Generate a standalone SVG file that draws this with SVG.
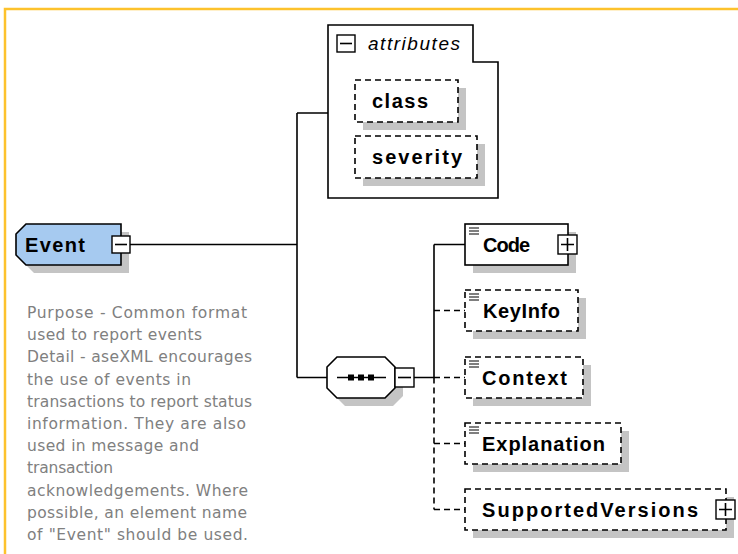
<svg xmlns="http://www.w3.org/2000/svg" width="738" height="554" viewBox="0 0 738 554">
<defs>
<style>
.ln{stroke:#000;stroke-width:1.6;fill:none}
.dl{stroke:#000;stroke-width:1.6;fill:none;stroke-dasharray:6 4}
.box{fill:#fff;stroke:#000;stroke-width:1.6}
.dbox{fill:#fff;stroke:#000;stroke-width:1.6;stroke-dasharray:6 4}
.sh{fill:#c4c4c4}
.lbl{font-family:"Liberation Sans",Arial,sans-serif;font-weight:bold;font-size:20px;fill:#000}
.desc{font-family:"DejaVu Sans",Verdana,sans-serif;font-size:15.5px;fill:#808080}
.btn{fill:#fff;stroke:#000;stroke-width:1.4}
.ico{stroke:#000;stroke-width:1.2;fill:none}
</style>
</defs>
<rect width="738" height="554" fill="#fff"/>
<path d="M5,554 V9 H738" fill="none" stroke="#FDC22C" stroke-width="2.5"/>

<g id="connectors">
 <path class="ln" d="M129,244.5 H297 M297,113 V377.5 M297,113 H328 M297,377.5 H327"/>
 <path class="ln" d="M414,377.5 H434 M434,244.5 V377.5 M434,244.5 H465"/>
 <path class="dl" d="M434,377.5 V509.5 M434,310.5 H465 M434,377.5 H465 M434,443.5 H465 M434,509.5 H465"/>
</g>

<g id="event">
 <polygon class="sh" points="24,242 34,232 129,232 129,273 34,273 24,263"/>
 <polygon points="16,234 26,224 121,224 121,265 26,265 16,255" fill="#A6CAF0" stroke="#000" stroke-width="1.6"/>
 <text class="lbl" x="25" y="252" textLength="60" lengthAdjust="spacing">Event</text>
 <rect class="btn" x="112" y="236" width="18" height="17"/>
 <path class="ln" d="M115,244.5 H127"/>
</g>

<g id="attributes">
 <path class="box" d="M328,25 H473 V62 H498 V198 H328 Z"/>
 <rect class="btn" x="337" y="35" width="18" height="17"/>
 <path class="ln" d="M340,43.5 H352"/>
 <text x="368" y="50" font-family="Liberation Sans, Arial, sans-serif" font-style="italic" font-size="19" textLength="92" lengthAdjust="spacing">attributes</text>
</g>

<g id="class">
 <rect class="sh" x="363" y="88" width="103" height="42"/>
 <rect class="dbox" x="355" y="80" width="103" height="42"/>
 <text class="lbl" x="372" y="108" textLength="56" lengthAdjust="spacing">class</text>
</g>

<g id="severity">
 <rect class="sh" x="363" y="144" width="122" height="42"/>
 <rect class="dbox" x="355" y="136" width="122" height="42"/>
 <text class="lbl" x="372" y="164" textLength="90" lengthAdjust="spacing">severity</text>
</g>

<g id="sequence">
 <polygon class="sh" points="335,375 345,365 393,365 403,375 403,396 393,406 345,406 335,396"/>
 <polygon class="box" points="327,367 337,357 385,357 395,367 395,388 385,398 337,398 327,388"/>
 <path class="ln" d="M337,377.5 H386"/>
 <rect x="348" y="374.5" width="6" height="6" fill="#000"/>
 <rect x="358" y="374.5" width="6" height="6" fill="#000"/>
 <rect x="368" y="374.5" width="6" height="6" fill="#000"/>
 <rect class="btn" x="395" y="368" width="19" height="19"/>
 <path class="ln" d="M398,377.5 H411"/>
</g>

<g id="code">
 <rect class="sh" x="473" y="232" width="103" height="41"/>
 <rect class="box" x="465" y="224" width="103" height="41"/>
 <path class="ico" d="M469,228 H479 M469,231 H479 M469,234 H479"/>
 <text class="lbl" x="483" y="252" textLength="47" lengthAdjust="spacing">Code</text>
 <rect class="btn" x="558" y="235" width="19" height="19"/>
 <path class="ln" d="M561,244.5 H574 M567.5,238 V251"/>
</g>

<g id="keyinfo">
 <rect class="sh" x="473" y="298" width="113" height="41"/>
 <rect class="dbox" x="465" y="290" width="113" height="41"/>
 <path class="ico" d="M469,294 H479 M469,297 H479 M469,300 H479"/>
 <text class="lbl" x="483" y="318" textLength="77" lengthAdjust="spacing">KeyInfo</text>
</g>

<g id="context">
 <rect class="sh" x="473" y="365" width="118" height="41"/>
 <rect class="dbox" x="465" y="357" width="118" height="41"/>
 <path class="ico" d="M469,361 H479 M469,364 H479 M469,367 H479"/>
 <text class="lbl" x="482" y="385" textLength="85" lengthAdjust="spacing">Context</text>
</g>

<g id="explanation">
 <rect class="sh" x="473" y="431" width="156" height="41"/>
 <rect class="dbox" x="465" y="423" width="156" height="41"/>
 <path class="ico" d="M469,427 H479 M469,430 H479 M469,433 H479"/>
 <text class="lbl" x="482" y="451" textLength="123" lengthAdjust="spacing">Explanation</text>
</g>

<g id="supportedversions">
 <rect class="sh" x="473" y="497" width="261" height="41"/>
 <rect class="dbox" x="465" y="489" width="261" height="41"/>
 <text class="lbl" x="482" y="517" textLength="216" lengthAdjust="spacing">SupportedVersions</text>
 <rect class="btn" x="716" y="500" width="19" height="19"/>
 <path class="ln" d="M719,509.5 H732 M725.5,503 V516"/>
</g>

<g id="description" class="desc">
 <text x="27" y="318" textLength="220" lengthAdjust="spacing">Purpose - Common format</text>
 <text x="27" y="340.2" textLength="175" lengthAdjust="spacing">used to report events</text>
 <text x="27" y="362.4" textLength="225" lengthAdjust="spacing">Detail - aseXML encourages</text>
 <text x="27" y="384.6" textLength="164" lengthAdjust="spacing">the use of events in</text>
 <text x="27" y="406.8" textLength="225" lengthAdjust="spacing">transactions to report status</text>
 <text x="27" y="429" textLength="219" lengthAdjust="spacing">information. They are also</text>
 <text x="27" y="451.2" textLength="172" lengthAdjust="spacing">used in message and</text>
 <text x="27" y="473.4" textLength="86" lengthAdjust="spacing">transaction</text>
 <text x="27" y="495.6" textLength="221" lengthAdjust="spacing">acknowledgements. Where</text>
 <text x="27" y="517.8" textLength="220" lengthAdjust="spacing">possible, an element name</text>
 <text x="27" y="540" textLength="221" lengthAdjust="spacing">of "Event" should be used.</text>
</g>
</svg>
